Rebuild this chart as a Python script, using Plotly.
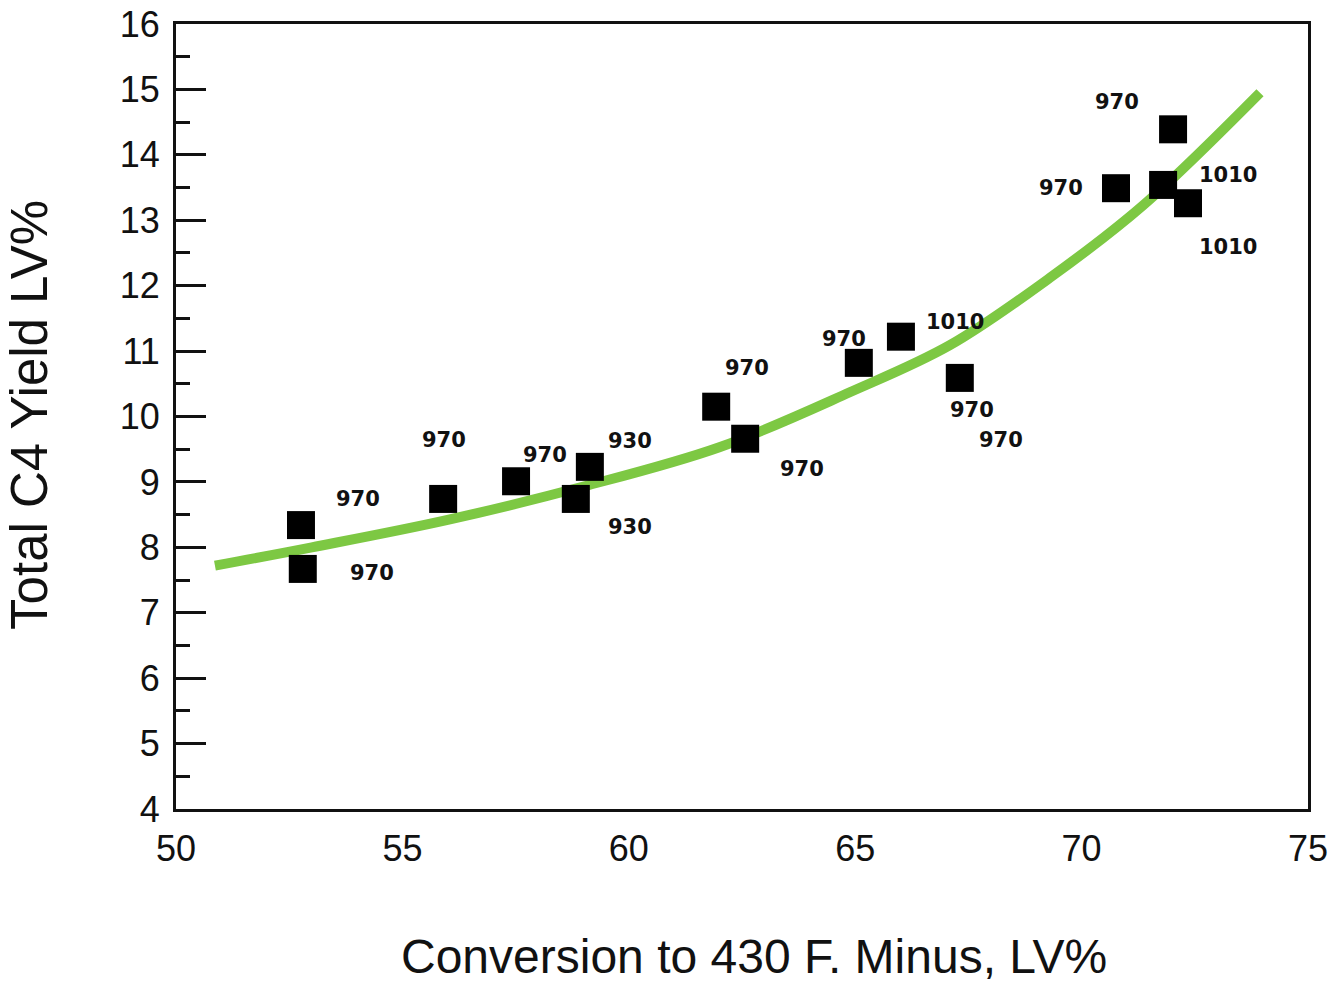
import plotly.graph_objects as go

# ---- data ----
conversion = [52.76, 52.80, 55.90, 57.51, 58.83, 59.14, 61.93, 62.57, 65.08, 66.01,
              67.31, 70.76, 71.80, 72.02, 72.35]
c4_yield = [8.34, 7.67, 8.74, 9.01, 8.74, 9.23, 10.15, 9.66, 10.82, 11.22,
            10.59, 13.49, 13.54, 14.39, 13.26]
point_labels = ["970", "970", "970", "970", "930", "930", "970", "970", "970", "1010",
                "970", "970", "1010", "970", "1010"]
extra_label_point = 10
extra_label_text = "970"

curve_x = [50.86, 53.0, 56.0, 59.0, 62.0, 64.88, 67.09, 69.30, 71.36, 73.94]
curve_y = [7.72, 8.00, 8.42, 8.93, 9.53, 10.37, 11.09, 12.12, 13.23, 14.95]

x_ticks = [50, 55, 60, 65, 70, 75]
y_ticks = list(range(4, 17))

# ---- label offsets (pixels, from point centre) ----
label_dx = [57, 69, 1, 29, 54, 40, 31, 57, -15, 54, 12, -55, 65, -56, 40]
label_dy = [-26, 4, -59, -26, 28, -26, -39, 30, -24, -15, 32, 0, -10, -27, 44]
extra_dx, extra_dy = 41, 62

fig = go.Figure()

fig.add_trace(go.Scatter(
    x=curve_x, y=curve_y, mode="lines",
    line=dict(color="#7DC843", width=10, shape="spline", smoothing=1.0),
    hoverinfo="skip", showlegend=False))

fig.add_trace(go.Scatter(
    x=conversion, y=c4_yield, mode="markers",
    marker=dict(symbol="square", size=28, color="black", line=dict(width=0)),
    showlegend=False))

lab_font = dict(family="DejaVu Sans", size=21, color="#111111")
for i, (xv, yv, t) in enumerate(zip(conversion, c4_yield, point_labels)):
    fig.add_annotation(x=xv, y=yv, text="<b>%s</b>" % t, showarrow=True, arrowcolor="rgba(0,0,0,0)",
                       ax=label_dx[i], ay=label_dy[i], font=lab_font,
                       xanchor="center", yanchor="middle")
fig.add_annotation(x=conversion[extra_label_point], y=c4_yield[extra_label_point],
                   text="<b>%s</b>" % extra_label_text, showarrow=True, arrowcolor="rgba(0,0,0,0)",
                   ax=extra_dx, ay=extra_dy, font=lab_font, xanchor="center", yanchor="middle")

# axis titles
fig.add_annotation(xref="paper", yref="paper", x=0.511, y=-0.188, text="Conversion to 430 F. Minus, LV%",
                   showarrow=False, font=dict(family="Liberation Sans, Arial", size=48, color="#111111"),
                   xanchor="center", yanchor="middle")
fig.add_annotation(xref="paper", yref="paper", x=-0.129, y=0.502, text="Total C4 Yield LV%",
                   showarrow=False, font=dict(family="Liberation Sans, Arial", size=51, color="#111111"),
                   textangle=-90, xanchor="center", yanchor="middle")

tick_font = dict(family="Liberation Sans, Arial", size=36, color="#111111")
fig.update_layout(
    width=1331, height=985,
    margin=dict(l=176, r=23, t=24, b=176, autoexpand=False),
    paper_bgcolor="white", plot_bgcolor="white",
    xaxis=dict(range=[50, 75], tickvals=x_ticks, ticktext=[str(v) for v in x_ticks],
               ticks="", showgrid=False, zeroline=False, showline=True, linecolor="#111111",
               linewidth=3, mirror=True, tickfont=tick_font, ticklabelstandoff=6, automargin=False),
    yaxis=dict(range=[4, 16], tickvals=y_ticks, ticktext=[str(v) for v in y_ticks],
               ticks="inside", ticklen=30, tickwidth=2.5, tickcolor="#111111",
               minor=dict(ticks="inside", ticklen=14, tickwidth=2.5, dtick=0.5, tickcolor="#111111"),
               showgrid=False, zeroline=False, showline=True, linecolor="#111111",
               linewidth=3, mirror=True, tickfont=tick_font, ticklabelstandoff=6, automargin=False),
)

fig.write_html("out.html")
